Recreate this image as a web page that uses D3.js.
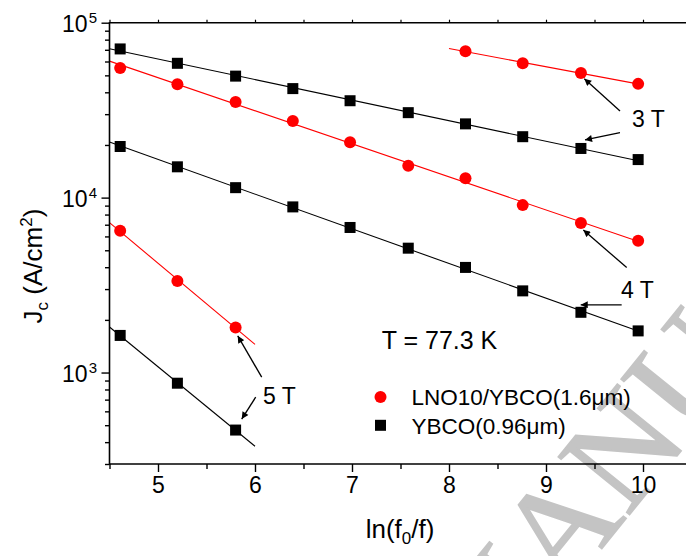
<!DOCTYPE html>
<html>
<head>
<meta charset="utf-8">
<script src="https://cdn.jsdelivr.net/npm/d3@7"></script>
<style>
  body { margin: 0; background: #fff; }
  svg { display: block; }
  text { font-family: "Liberation Sans", Arial, Helvetica, sans-serif; fill: #000; }
</style>
</head>
<body>
<svg id="chart" width="686" height="556"></svg>
<script>
// ln(f0/f) values of the frequency sweep
const lnF = [4.61, 5.20, 5.80, 6.39, 6.98, 7.58, 8.17, 8.76, 9.36, 9.95];

// Jc (A/cm^2) for LNO10/YBCO(1.6um)
const lno3T = [68700, 58700, 51600, 44700];          // last four frequencies
const lno4T = [55100, 44500, 35200, 27400, 20700, 15200, 12900, 9060, 7160, 5660];
const lno5T = [6460, 3340, 1810];                    // first three frequencies

// Jc (A/cm^2) for YBCO(0.96um)
const ybco3T = [70800, 58600, 49500, 42000, 35800, 30600, 26400, 22300, 19100, 16500];
const ybco4T = [19600, 15000, 11400, 8850, 6750, 5140, 3990, 2930, 2210, 1730];
const ybco5T = [1630, 869, 469];

// x-range over which each log-linear fit is drawn
const fitRanges = {
  lno3T: [8.0, 10.0], lno4T: [4.5, 10.0], lno5T: [4.5, 6.0],
  ybco3T: [4.5, 10.0], ybco4T: [4.5, 10.0], ybco5T: [4.5, 6.0]
};

const xTicks = [5, 6, 7, 8, 9, 10];
const xMinorTicks = [4.5, 5.5, 6.5, 7.5, 8.5, 9.5, 10.5];
const yTicks = [1e3, 1e4, 1e5];
const yTickLabels = [["10", "3"], ["10", "4"], ["10", "5"]];

// Field annotations: label position and arrows, all in data units [x, Jc]
const fieldLabels = [
  { text: "3 T", at: [9.887, 25350] },
  { text: "4 T", at: [9.773, 2662] },
  { text: "5 T", at: [6.082, 662] }
];
const fieldArrows = [
  { from: [9.763, 31290], to: [9.395, 47860] },
  { from: [9.763, 23520], to: [9.402, 21360] },
  { from: [9.832, 3981],  to: [9.385, 6537] },
  { from: [9.780, 2437],  to: [9.358, 2437] },
  { from: [6.069, 941],   to: [5.822, 1621] },
  { from: [6.007, 723],   to: [5.863, 542] }
];
const tempLabel = { text: "T = 77.3 K", at: [7.306, 1360] };

const legendItems = [
  { name: "LNO10/YBCO(1.6\u03bcm)", shape: "circle" },
  { name: "YBCO(0.96\u03bcm)", shape: "square" }
];

const RED = "#ff0000", BLACK = "#000000";

const series = [
  { key: "lno3T",  xs: lnF.slice(6), ys: lno3T,  color: RED,   shape: "circle" },
  { key: "lno4T",  xs: lnF,          ys: lno4T,  color: RED,   shape: "circle" },
  { key: "lno5T",  xs: lnF.slice(0, 3), ys: lno5T, color: RED, shape: "circle" },
  { key: "ybco3T", xs: lnF,          ys: ybco3T, color: BLACK, shape: "square" },
  { key: "ybco4T", xs: lnF,          ys: ybco4T, color: BLACK, shape: "square" },
  { key: "ybco5T", xs: lnF.slice(0, 3), ys: ybco5T, color: BLACK, shape: "square" }
];

const svg = d3.select("#chart");
const plot = { left: 109.5, right: 691.5, top: 22.7, bottom: 464 };

const x = d3.scaleLinear().domain([4.5, 10.5]).range([plot.left, plot.right]);
const y = d3.scaleLog().domain([300, 1e5]).range([plot.bottom, plot.top]);

// Diagonal watermark behind the plot
svg.append("text")
  .attr("transform", "translate(485,693) rotate(-51)")
  .style("font-family", "'Liberation Serif', 'Times New Roman', serif")
  .attr("font-size", 140)
  .style("fill", "#c4c4c4")
  .style("stroke", "#c4c4c4")
  .style("stroke-width", 1.6)
  .text("MANUSCRIPT");

// Log-linear least-squares fit of log10(Jc) against ln(f0/f)
function fit(xs, ys) {
  const ly = ys.map(v => Math.log10(v));
  const mx = d3.mean(xs), my = d3.mean(ly);
  let sxy = 0, sxx = 0;
  xs.forEach((xv, i) => { sxy += (xv - mx) * (ly[i] - my); sxx += (xv - mx) ** 2; });
  const b = sxy / sxx, a = my - b * mx;
  return xv => Math.pow(10, a + b * xv);
}

const clipId = "plotClip";
svg.append("clipPath").attr("id", clipId)
  .append("rect").attr("x", plot.left).attr("y", plot.top)
  .attr("width", plot.right - plot.left).attr("height", plot.bottom - plot.top);

const gData = svg.append("g").attr("clip-path", `url(#${clipId})`);
const line = d3.line().x(d => x(d[0])).y(d => y(d[1]));

series.forEach(s => {
  const f = fit(s.xs, s.ys);
  const [x0, x1] = fitRanges[s.key];
  gData.append("path")
    .attr("d", line([[x0, f(x0)], [x1, f(x1)]]))
    .attr("fill", "none").attr("stroke", s.color).attr("stroke-width", 1.1);
});

const gMarks = svg.append("g");
series.forEach(s => {
  const pts = s.xs.map((xv, i) => [xv, s.ys[i]]);
  if (s.shape === "circle") {
    gMarks.selectAll(null).data(pts).join("circle")
      .attr("cx", d => x(d[0])).attr("cy", d => y(d[1])).attr("r", 6)
      .attr("fill", s.color);
  } else {
    gMarks.selectAll(null).data(pts).join("rect")
      .attr("x", d => x(d[0]) - 5.5).attr("y", d => y(d[1]) - 5.5)
      .attr("width", 11).attr("height", 11).attr("fill", s.color);
  }
});

// Axes
const axisW = 1.6;
// bottom
const gx = svg.append("g").attr("transform", `translate(0,${plot.bottom})`);
gx.call(d3.axisBottom(x).tickValues(xTicks).tickSize(8).tickFormat(d3.format("d")));
gx.append("g").call(d3.axisBottom(x).tickValues(xMinorTicks).tickSize(5).tickFormat(""));
gx.selectAll(".domain").attr("stroke", "none");
gx.append("line").attr("x1", plot.left).attr("x2", plot.right).attr("stroke", "#000").attr("stroke-width", axisW);
gx.selectAll(".tick line").attr("stroke", "#000").attr("stroke-width", 1.4);
gx.selectAll(".tick text").attr("font-size", 23).attr("y", 13).attr("dy", "0.71em")
  .style("font-family", "'Liberation Sans', Arial, sans-serif");

// top
const gt = svg.append("g").attr("transform", `translate(0,${plot.top})`);
gt.call(d3.axisTop(x).tickValues(xTicks.concat(xMinorTicks)).tickSize(3).tickFormat(""));
gt.selectAll(".domain").attr("stroke", "none");
gt.append("line").attr("x1", plot.left).attr("x2", plot.right).attr("stroke", "#000").attr("stroke-width", axisW);
gt.selectAll(".tick line").attr("stroke", "#000").attr("stroke-width", 1.2);

// left
const yMinor = [];
[100, 1000, 10000].forEach(dec => {
  for (let k = 2; k <= 9; k++) { const v = k * dec; if (v >= 300 && v < 1e5) yMinor.push(v); }
});
const gy = svg.append("g").attr("transform", `translate(${plot.left},0)`);
gy.call(d3.axisLeft(y).tickValues(yTicks).tickSize(8).tickFormat(""));
gy.append("g").call(d3.axisLeft(y).tickValues(yMinor).tickSize(4.5).tickFormat(""));
gy.selectAll(".domain").attr("stroke", "none");
gy.append("line").attr("y1", plot.top - 0.8).attr("y2", plot.bottom + 0.8).attr("stroke", "#000").attr("stroke-width", axisW);
gy.selectAll(".tick line").attr("stroke", "#000").attr("stroke-width", 1.4);

const yLab = svg.append("g");
yTicks.forEach((v, i) => {
  const t = yLab.append("text").attr("x", 97).attr("y", y(v) + 9.5)
    .attr("text-anchor", "end").attr("font-size", 23);
  t.append("tspan").text(yTickLabels[i][0]);
  t.append("tspan").attr("font-size", 15).attr("dy", -9).attr("dx", 1).text(yTickLabels[i][1]);
});

// Axis titles
const xt = svg.append("text").attr("x", 400).attr("y", 538)
  .attr("text-anchor", "middle").attr("font-size", 26);
xt.append("tspan").text("ln(f");
xt.append("tspan").attr("font-size", 17).attr("dy", 6).text("0");
xt.append("tspan").attr("dy", -6).text("/f)");

const yt = svg.append("text").attr("transform", "translate(42,266) rotate(-90)")
  .attr("text-anchor", "middle").attr("font-size", 26);
yt.append("tspan").text("J");
yt.append("tspan").attr("font-size", 17).attr("dy", 6).text("c");
yt.append("tspan").attr("dy", -6).text(" (A/cm");
yt.append("tspan").attr("font-size", 17).attr("dy", -10).text("2");
yt.append("tspan").attr("dy", 10).text(")");

// Arrow marker
svg.append("defs").append("marker")
  .attr("id", "head").attr("viewBox", "0 0 10 10")
  .attr("refX", 10).attr("refY", 5)
  .attr("markerWidth", 9).attr("markerHeight", 7)
  .attr("markerUnits", "userSpaceOnUse")
  .attr("orient", "auto")
  .append("path").attr("d", "M0,0 L10,5 L0,10 Z").attr("fill", "#000");

svg.append("g").selectAll("line").data(fieldArrows).join("line")
  .attr("x1", d => x(d.from[0])).attr("y1", d => y(d.from[1]))
  .attr("x2", d => x(d.to[0])).attr("y2", d => y(d.to[1]))
  .attr("stroke", "#000").attr("stroke-width", 1.3)
  .attr("marker-end", "url(#head)");

svg.append("g").selectAll("text").data(fieldLabels).join("text")
  .attr("x", d => x(d.at[0])).attr("y", d => y(d.at[1]))
  .attr("font-size", 23).text(d => d.text);

svg.append("text").attr("x", x(tempLabel.at[0])).attr("y", y(tempLabel.at[1]))
  .attr("font-size", 25).text(tempLabel.text);

// Legend
const lg = svg.append("g").attr("transform", "translate(380.5,397)");
legendItems.forEach((it, i) => {
  const row = lg.append("g").attr("transform", `translate(0,${i * 28.3})`);
  if (it.shape === "circle") row.append("circle").attr("r", 6).attr("fill", RED);
  else row.append("rect").attr("x", -5.5).attr("y", -5.5).attr("width", 11).attr("height", 11).attr("fill", BLACK);
  row.append("text").attr("x", 31).attr("y", 8.3).attr("font-size", 22.5).text(it.name);
});
</script>
</body>
</html>
